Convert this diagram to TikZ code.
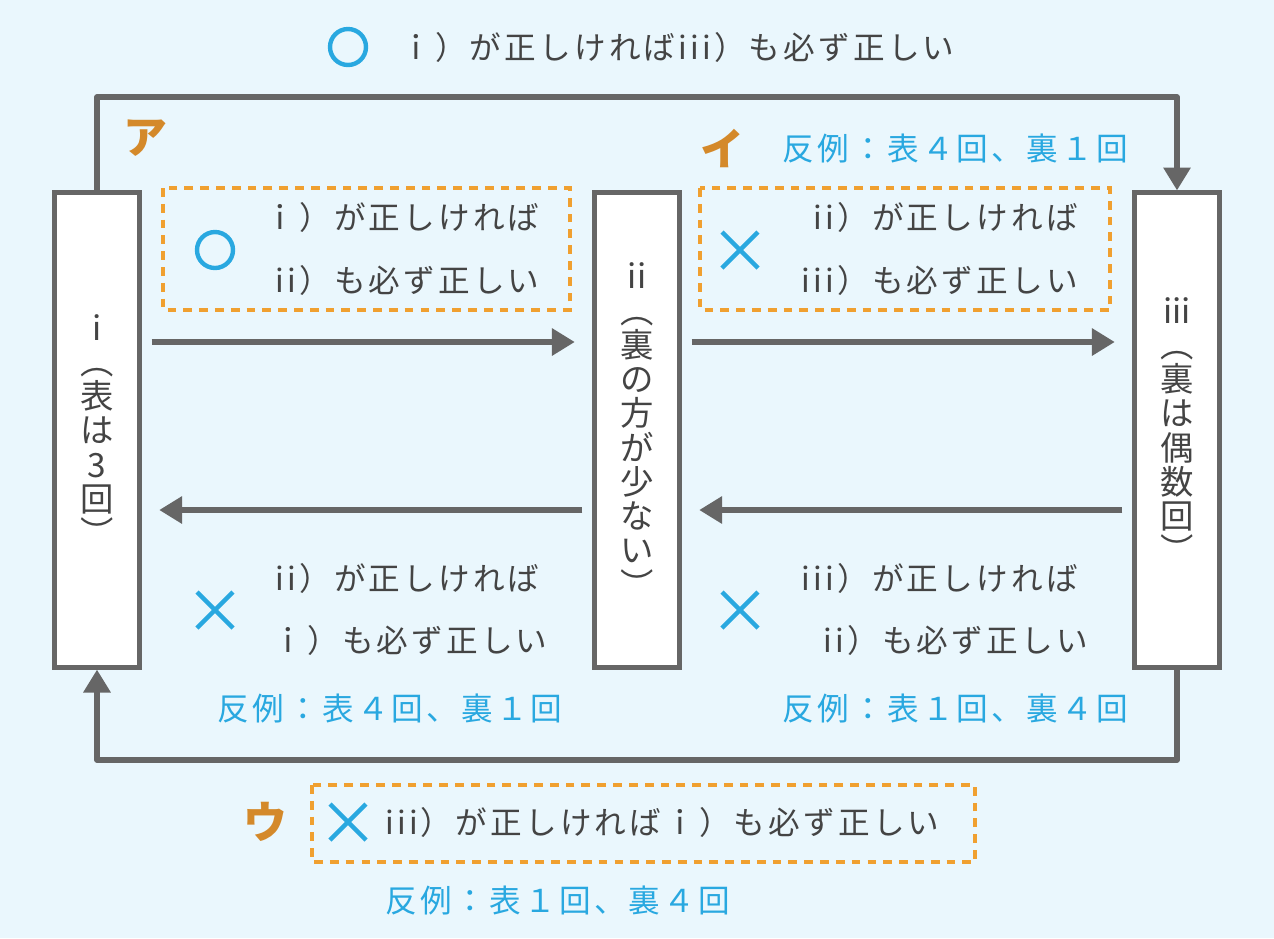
\documentclass[tikz,border=0pt]{standalone}
\usepackage{fontspec}
\setmainfont{Noto Sans CJK JP}
\newfontfamily\spacedfont[LetterSpace=10]{Noto Sans CJK JP}
\usetikzlibrary{arrows.meta,positioning}
\definecolor{bgblue}{HTML}{EAF7FD}
\definecolor{txtgray}{HTML}{444444}
\definecolor{linegray}{HTML}{666666}
\definecolor{myblue}{HTML}{29A8E0}
\definecolor{myorange}{HTML}{F0A030}
\definecolor{labelorange}{HTML}{D4892A}

\begin{document}
\begin{tikzpicture}[x=0.02cm, y=-0.02cm]
\tikzset{
    statebox/.style={rectangle, draw=linegray, fill=white, line width=2.5pt, minimum width=1.7cm, minimum height=9.5cm, inner sep=0pt},
    vtext/.style={align=center, text=txtgray, font=\fontsize{19}{19.5}\selectfont},
    mytext/.style={text=txtgray, inner sep=0pt, font=\spacedfont\fontsize{18}{20}\selectfont},
    bluetext/.style={text=myblue, inner sep=0pt, font=\spacedfont\fontsize{18}{20}\selectfont},
    mylabel/.style={text=labelorange, font=\fontsize{25}{27}\selectfont\bfseries},
    dashbox/.style={draw=myorange, dashed, line width=2pt, dash pattern=on 5pt off 4pt},
    myarrow/.style={-{Triangle[length=13pt,width=15pt]}, draw=linegray, line width=3pt},
    okmark/.style={circle, draw=myblue, line width=2.5pt, minimum size=0.72cm, inner sep=0pt},
    ngmark/.style={draw=myblue, line width=2.5pt}
}
\fill[bgblue] (0,0) rectangle (1274,938);

% boxes
\node[statebox] (one) at (97,430) {};
\node[statebox] (two) at (637,430) {};
\node[statebox] (three) at (1177,430) {};
\node[vtext] at (one) {i\\︵\\表\\は\\3\\回\\︶};
\node[vtext] at (two) {ii\\︵\\裏\\の\\方\\が\\少\\な\\い\\︶};
\node[vtext] at (three) {iii\\︵\\裏\\は\\偶\\数\\回\\︶};

% loops
\coordinate (tl) at (97,97);
\coordinate (tr) at (1177,97);
\coordinate (bl) at (97,760);
\coordinate (br) at (1177,760);
\draw[myarrow, line join=round] (one.north) -- (tl) -- (tr) -- (three.north);
\draw[myarrow, line join=round] (three.south) -- (br) -- (bl) -- (one.south);

% horizontal arrows
\draw[myarrow] (one.east |- 0,342) ++(10,0) coordinate (a1) -- ([xshift=-10]two.west |- a1);
\draw[myarrow] (two.east |- 0,342) ++(10,0) coordinate (a2) -- ([xshift=-10]three.west |- a2);
\draw[myarrow] (two.west |- 0,510) ++(-10,0) coordinate (a3) -- ([xshift=10]one.east |- a3);
\draw[myarrow] (three.west |- 0,510) ++(-10,0) coordinate (a4) -- ([xshift=10]two.east |- a4);

% top
\node[okmark] (topok) at (348,47) {};
\node[mytext, anchor=west] (toptext) at (400,47) {ｉ）が正しければiii）も必ず正しい};

% ア
\node[mylabel] (labA) at (145,138) {ア};
\draw[dashbox] (163,188) rectangle (570,310);
\node[okmark] (okA) at (215,250) {};
\node[mytext, anchor=east] (a1t) at (540,217) {ｉ）が正しければ};
\node[mytext, anchor=east] (a2t) at (540,280) {ii）も必ず正しい};

% イ
\node[mylabel] (labB) at (722,148) {イ};
\node[bluetext, anchor=east] (exB) at (1128,148) {反例：表４回、裏１回};
\draw[dashbox] (700,188) rectangle (1110,310);
\draw[ngmark] (722,232) -- (758,268) (758,232) -- (722,268);
\node[mytext, anchor=east] (b1t) at (1078,217) {ii）が正しければ};
\node[mytext, anchor=east] (b2t) at (1078,280) {iii）も必ず正しい};

% bottom left
\draw[ngmark] (197,592) -- (233,628) (233,592) -- (197,628);
\node[mytext, anchor=east] (c1t) at (540,578) {ii）が正しければ};
\node[mytext, anchor=east] (c2t) at (548,640) {ｉ）も必ず正しい};
\node[bluetext, anchor=east] (exC) at (563,708) {反例：表４回、裏１回};

% bottom right
\draw[ngmark] (722,592) -- (758,628) (758,592) -- (722,628);
\node[mytext, anchor=east] (d1t) at (1078,578) {iii）が正しければ};
\node[mytext, anchor=east] (d2t) at (1088,640) {ii）も必ず正しい};
\node[bluetext, anchor=east] (exD) at (1128,708) {反例：表１回、裏４回};

% ウ
\node[mylabel] (labC) at (265,822) {ウ};
\draw[dashbox] (312,785) rectangle (975,862);
\draw[ngmark] (330,804) -- (366,840) (366,804) -- (330,840);
\node[mytext, anchor=west] (e1t) at (385,822) {iii）が正しければｉ）も必ず正しい};
\node[bluetext, anchor=west] (exE) at (385,900) {反例：表１回、裏４回};
\end{tikzpicture}
\end{document}
